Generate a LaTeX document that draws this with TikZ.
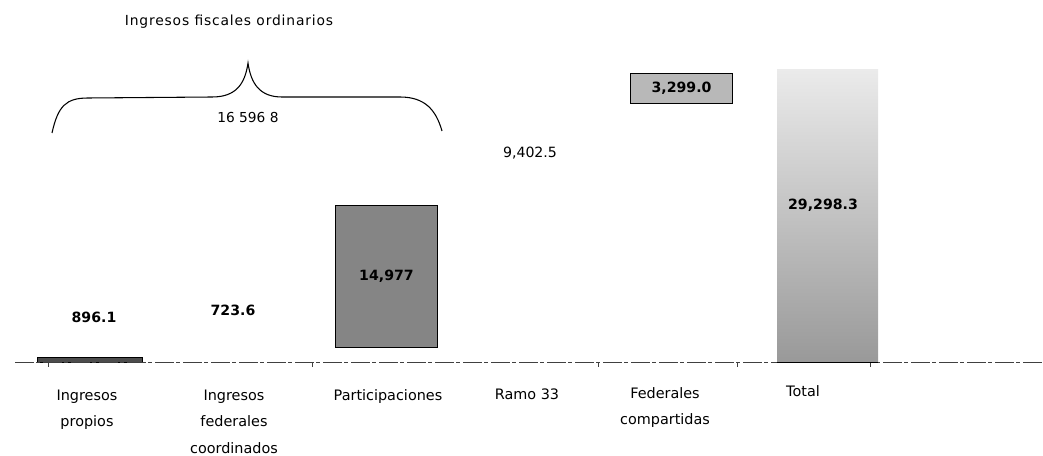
\documentclass[tikz,border=0pt]{standalone}
\usepackage{fontspec}
\setmainfont{DejaVu Sans}
\usetikzlibrary{positioning}

\begin{document}
\begin{tikzpicture}[x=0.75pt,y=-0.75pt,
	cat/.style={anchor=north,inner sep=0pt,align=center,font=\fontsize{10.8}{19.6}\selectfont},
	val/.style={inner sep=0pt,font=\fontsize{10.6}{12}\selectfont\bfseries},
	bar/.style={draw=black,line width=0.6pt,inner sep=0pt,minimum width=77pt},
	axis/.style={black!75,line width=0.7pt,dash pattern=on 14pt off 2pt on 3pt off 2pt}]
	\useasboundingbox (0,0) rectangle (1043,456);
	% barras
	\node[bar,fill=black!70,minimum width=78.75pt,minimum height=3.75pt](bpro) at (89.5,359.5) {};
	\node[bar,fill=black!48,minimum height=106.5pt,val](bpart) at (386.5,276) {14,977};
	\node[bar,fill=black!28,minimum height=22.5pt,val](bfed) at (681.5,88) {3,299.0};
	\node[bar,draw=none,top color=black!8,bottom color=black!40,minimum width=75.75pt,minimum height=219pt](btot) at (827.5,216) {};
	\node[val](vtot) at (823,205) {29,298.3};
	% eje
	\coordinate (ax0) at (15,362);
	\coordinate (ax1) at (1043,362);
	\draw[axis] (ax0) -- (ax1);
	\foreach \t in {48,312,598,737,870}
		\draw[black!75,line width=0.7pt] (\t,362) -- ++(0,5);
	\draw[line width=1pt] (btot.south west) -- (btot.south east);
	% valores
	\node[val](vpro) at (94,317) {896.1};
	\node[val](vcoo) at (233,310) {723.6};
	\node[val,font=\fontsize{10.6}{12}\selectfont](vram) at (530,153) {9,402.5};
	% llave
	\coordinate (bl) at (52,133);
	\coordinate (btip) at (248,63);
	\coordinate (br) at (442,131);
	\draw[line width=0.8pt] (bl) .. controls (58,106) and (66,98) .. (88,98) -- (212,97)
		.. controls (236,97) and (245,84) .. (btip)
		.. controls (251,84) and (260,97) .. (282,97) -- (400,97)
		.. controls (425,97) and (436,110) .. (br);
	\node[inner sep=0pt,font=\fontsize{10.3}{12}\selectfont](vsum) at (248,118) {16 596 8};
	\node[inner sep=0pt,font=\fontsize{10.4}{12}\selectfont\addfontfeatures{LetterSpace=6}](tit) at (229,22) {Ingresos fiscales ordinarios};
	% categorias
	\node[cat](cpro) at (87,390) {Ingresos\\propios};
	\node[cat](ccoo) at (234,390) {Ingresos\\federales\\coordinados};
	\node[cat](cpart) at (388,389) {Participaciones};
	\node[cat](cram) at (527,389) {Ramo 33};
	\node[cat](cfed) at (665,387) {Federales\\compartidas};
	\node[cat](ctot) at (803,385) {Total};
\end{tikzpicture}
\end{document}
